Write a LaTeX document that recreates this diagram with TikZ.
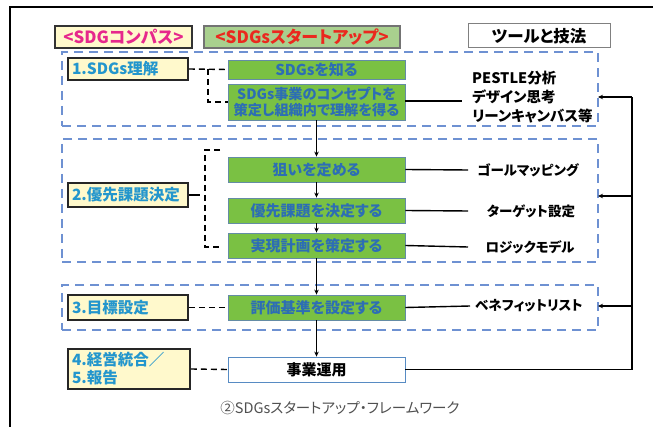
\documentclass[tikz,border=0pt]{standalone}
\usepackage{fontspec}
\usetikzlibrary{arrows.meta}
\newfontfamily\jp[RawFeature=+palt]{Noto Sans CJK JP}
\definecolor{lyellow}{RGB}{255,249,204}
\definecolor{lblue}{RGB}{35,150,205}
\definecolor{gfill}{RGB}{122,193,67}
\definecolor{gtext}{RGB}{45,110,180}
\definecolor{gborder}{RGB}{100,140,165}
\definecolor{rblue}{RGB}{110,145,210}
\definecolor{hfill}{RGB}{169,208,142}
\definecolor{hred}{RGB}{235,40,30}
\definecolor{hmag}{RGB}{230,40,140}
\definecolor{capgray}{RGB}{80,80,80}
\tikzset{
  lbl/.style={draw=black!85, line width=1.6pt, fill=lyellow, text=lblue, inner xsep=4pt, inner ysep=0pt, align=left, font=\jp\bfseries\fontsize{15.5}{18}\selectfont},
  gbox/.style={draw=gborder, line width=0.8pt, fill=gfill, text=gtext, minimum width=177pt, inner sep=0pt, align=center, font=\jp\bfseries\fontsize{15}{17}\selectfont},
  region/.style={draw=rblue, line width=1.8pt, dash pattern=on 9pt off 6pt, minimum width=536pt, inner sep=0pt},
  tool/.style={text=black, inner sep=0pt, font=\jp\bfseries\fontsize{13.5}{19}\selectfont},
  link/.style={draw=black, line width=1.4pt},
  dlink/.style={draw=black, line width=1.4pt, dash pattern=on 6pt off 4pt},
  arr/.style={draw=black, line width=1.2pt, -{Stealth[length=5pt,width=4.5pt]}},
}
\begin{document}
\begin{tikzpicture}[x=1pt,y=-1pt]
\fill[white] (0,0) rectangle (653,427);
\useasboundingbox (0,0) rectangle (653,427);
% outer frame
\draw[line width=2pt] (9.5,427) -- (9.5,7) -- (653,7);

% headers
\node[draw=black!80, line width=1.6pt, fill=lyellow, text=hmag, minimum width=137pt, minimum height=22pt, inner sep=0pt, font=\jp\bfseries\fontsize{16.8}{19}\selectfont] (h1) at (123.5,37) {<SDGコンパス>};
\node[draw=black!55, line width=1.2pt, fill=hfill, text=hred, minimum width=196pt, minimum height=22pt, inner sep=0pt, font=\jp\bfseries\fontsize{17}{19}\selectfont] (h2) at (302,37) {<SDGsスタートアップ>};
\node[draw=black!50, line width=1pt, fill=white, text=black, minimum width=142pt, minimum height=24pt, inner sep=0pt, font=\jp\bfseries\fontsize{16.5}{18}\selectfont] (h3) at (539,36) {ツールと技法};

% dashed regions
\node[region, minimum height=74pt] (r1) at (330,89) {};
\node[region, minimum height=123pt] (r2) at (330,200.5) {};
\node[region, minimum height=45pt] (r3) at (330,307.5) {};

% left labels
\node[lbl, text width=112pt, minimum height=22pt] (l1) at (128,69) {1.SDGs理解};
\node[lbl, text width=112pt, minimum height=24pt] (l2) at (128,195) {2.優先課題決定};
\node[lbl, text width=112pt, minimum height=25pt] (l3) at (128,307.5) {3.目標設定};
\node[lbl, text width=114pt, minimum height=40pt] (l4) at (129,369) {4.経営統合／\\5.報告};

% center boxes
\node[gbox, minimum height=19pt] (g1) at (316.5,69.5) {SDGsを知る};
\node[gbox, minimum height=36pt, font=\jp\bfseries\fontsize{14.2}{16}\selectfont] (g2) at (316.5,102) {SDGs事業のコンセプトを\\策定し組織内で理解を得る};
\node[gbox, minimum height=25pt] (g3) at (316.5,169.5) {狙いを定める};
\node[gbox, minimum height=25pt] (g4) at (316.5,210.5) {優先課題を決定する};
\node[gbox, minimum height=25pt] (g5) at (316.5,245.5) {実現計画を策定する};
\node[gbox, minimum height=25pt] (g6) at (316.5,307.5) {評価基準を設定する};
\node[gbox, minimum height=25pt, fill=white, draw=gtext!80, text=black] (g7) at (316.5,369.5) {事業運用};

% tools
\node[tool, anchor=west, align=left, font=\jp\bfseries\fontsize{14.5}{19}\selectfont] (t1) at (472,97) {PESTLE分析\\デザイン思考\\リーンキャンバス等};
\node[tool] (t2) at (528,170) {ゴールマッピング};
\node[tool] (t3) at (531,211) {ターゲット設定};
\node[tool] (t4) at (530,247) {ロジックモデル};
\node[tool] (t5) at (529,306) {ベネフィットリスト};

% caption
\node[text=capgray, inner sep=0pt, font=\jp\fontsize{14.5}{16}\selectfont] (cap) at (340,408) {②SDGsスタートアップ・フレームワーク};

% central flow
\draw[arr] (g2.south) -- (g3.north);
\draw[arr] (g3.south) -- (g4.north);
\draw[arr] (g4.south) -- (g5.north);
\draw[arr] (g5.south) -- (g6.north);
\draw[arr] (g6.south) -- (g7.north);

% box to tools
\draw[link] (g2.east |- 0,101) -- (462,101);
\draw[link] (g3.east) -- (468,170);
\draw[link] (g4.east) -- (468,211);
\draw[link] (g5.east) -- (468,247);
\draw[link] (g6.east) -- (470,306);

% right feedback
\coordinate (rx) at (632,97);
\coordinate (a1) at (598,97);
\coordinate (a2) at (598,196);
\coordinate (a3) at (598,306);
\draw[link] (g7.east) -- (g7.east -| rx) -- (rx);
\draw[arr] (rx) -- (a1);
\draw[arr] (rx |- a2) -- (a2);
\draw[arr] (rx |- a3) -- (a3);

% left dashed connectors
\coordinate (b1) at (208,69);
\draw[dlink] (l1.east) -- (g1.west);
\draw[dlink] (b1) -- (208,102) -- (g2.west);
\draw[link] (l2.east) -- (200,195);
\draw[dlink] (220,150) -- (205,150) -- (205,247) -- (220,247);
\draw[dlink] (l3.east) -- (g6.west);
\draw[dlink] (l4.east) -- (g7.west);
\end{tikzpicture}
\end{document}
